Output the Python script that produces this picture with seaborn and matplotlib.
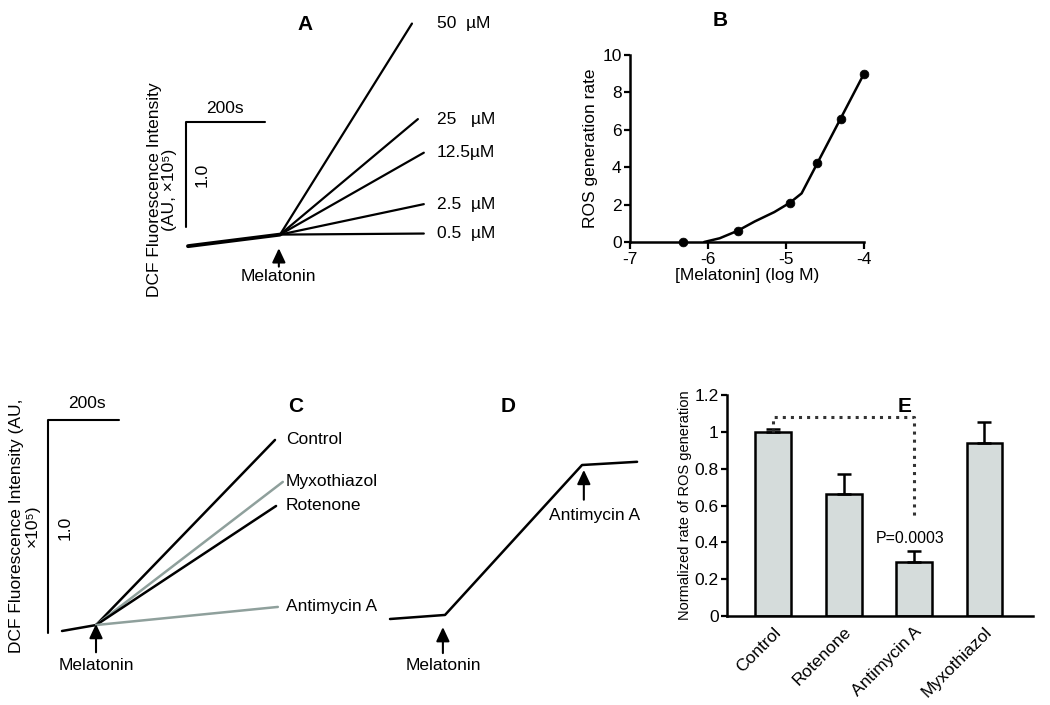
import numpy as np
import pandas as pd
import matplotlib
matplotlib.use("Agg")
import matplotlib.pyplot as plt
import seaborn as sns

sns.set_style("ticks")
plt.rcParams["font.family"] = ["Liberation Sans", "DejaVu Sans"]
plt.rcParams["text.color"] = "black"
plt.rcParams["axes.labelcolor"] = "black"
plt.rcParams["xtick.color"] = "black"
plt.rcParams["ytick.color"] = "black"
plt.rcParams["axes.edgecolor"] = "black"
plt.rcParams["axes.unicode_minus"] = False

W, H = 1050, 705
GREY = "#8fa09c"

# ---- panel A: traces (time in s, DCF intensity in AU x10^5)
a_pre_t = [0, 233]
a_pre_i = [-0.03, 0.08]
a_labels = ["50  µM", "25   µM", "12.5µM", "2.5  µM", "0.5  µM"]
a_end_t = [567, 582, 597, 597, 597]
a_end_i = [2.09, 1.18, 0.86, 0.37, 0.09]

# ---- panel B: dose response
b_logm = [-6.32, -5.62, -4.95, -4.6, -4.3, -4.0]
b_rate = [0.0, 0.6, 2.1, 4.2, 6.6, 9.0]
b_fit_x = [-6.05, -5.85, -5.62, -5.4, -5.15, -4.95, -4.8, -4.6, -4.3, -4.0]
b_fit_y = [0.0, 0.2, 0.6, 1.1, 1.6, 2.1, 2.6, 4.2, 6.6, 9.0]

# ---- panel C: inhibitors
c_pre_t = [0, 96]
c_pre_i = [0.0, 0.028]
c_labels = ["Control", "Myxothiazol", "Rotenone", "Antimycin A"]
c_colors = ["black", GREY, "black", GREY]
c_end_t = [600, 622, 603, 608]
c_end_i = [0.897, 0.70, 0.587, 0.113]

# ---- panel D: antimycin added during ramp
d_t = [0, 155, 541, 696]
d_i = [0.0, 0.019, 0.723, 0.738]

# ---- panel E: normalized rates
e_labels = ["Control", "Rotenone", "Antimycin A", "Myxothiazol"]
e_vals = [1.0, 0.66, 0.295, 0.94]
e_err = [0.015, 0.11, 0.058, 0.115]

fig = plt.figure(figsize=(W / 100, H / 100), dpi=100)


def px_axes(l, r, t, b):
    return fig.add_axes([l / W, 1 - b / H, (r - l) / W, (b - t) / H])


def trace_axes(l, r, t, b, x0, y0, sx, sy):
    ax = px_axes(l, r, t, b)
    ax.set_xlim((l - x0) / sx, (r - x0) / sx)
    ax.set_ylim((y0 - b) / sy, (y0 - t) / sy)
    ax.axis("off")
    return ax


def scale_bar(ax, x, y, dx, dy):
    ax.plot([x, x, x + dx], [y, y + dy, y + dy], color="black", lw=1.5, clip_on=False)


def arrow(ax, x, tip, tail):
    ax.annotate("", xy=(x, tip), xytext=(x, tail),
                arrowprops=dict(arrowstyle="-|>,head_width=0.4,head_length=0.85",
                                color="black", lw=1.5, shrinkA=0, shrinkB=0))


FS = 12.5

# ================= A
axA = trace_axes(140, 500, 0, 300, 188, 243, 0.395, 105)
sns.lineplot(x=a_pre_t, y=a_pre_i, color="black", lw=2.8, ax=axA)
for lab, te, ie in zip(a_labels, a_end_t, a_end_i):
    sns.lineplot(x=[a_pre_t[-1], te], y=[a_pre_i[-1], ie], color="black", lw=1.6, ax=axA)
    axA.text(630, ie, lab, ha="left", va="center", fontsize=FS)
scale_bar(axA, -5.8, 0.155, 200, 1.0)
axA.text(94, 1.28, "200s", ha="center", va="center", fontsize=FS)
axA.text(34.6, 0.65, "1.0", rotation=90, ha="center", va="center", fontsize=FS)
axA.text(-65.8, 0.505, "DCF Fluorescence Intensity\n(AU, ×10⁵)", rotation=90,
         ha="center", va="center", fontsize=FS, linespacing=1.05, multialignment="center")
arrow(axA, 230, -0.05, -0.225)
axA.text(230, -0.32, "Melatonin", ha="center", va="center", fontsize=FS)

# ================= B
axB = px_axes(630, 864, 55, 242)
sns.lineplot(x=b_fit_x, y=b_fit_y, color="black", lw=1.8, ax=axB)
sns.scatterplot(x=b_logm, y=b_rate, color="black", s=40, edgecolor="black", zorder=5,
                clip_on=False, ax=axB)
axB.set_xlim(-7, -4)
axB.set_ylim(0, 10)
axB.set_xticks([-7, -6, -5, -4])
axB.set_yticks([0, 2, 4, 6, 8, 10])
axB.set_xlabel("[Melatonin] (log M)", fontsize=FS, labelpad=1)
axB.set_ylabel("ROS generation rate", fontsize=FS, labelpad=3)
sns.despine(ax=axB)

# ================= C
axC = trace_axes(0, 380, 380, 705, 62, 631, 0.355, 213)
sns.lineplot(x=c_pre_t, y=c_pre_i, color="black", lw=1.8, ax=axC)
for lab, col, te, ie in zip(c_labels, c_colors, c_end_t, c_end_i):
    sns.lineplot(x=[c_pre_t[-1], te], y=[c_pre_i[-1], ie], color=col, lw=1.8, ax=axC)
    axC.text(631, ie, lab, ha="left", va="center", fontsize=FS)
scale_bar(axC, -39.4, -0.01, 200, 1.0)
axC.text(71.3, 1.07, "200s", ha="center", va="center", fontsize=FS)
axC.text(8.5, 0.484, "1.0", rotation=90, ha="center", va="center", fontsize=FS)
axC.text(-107, 0.493, "DCF Fluorescence Intensity (AU,\n×10⁵)", rotation=90,
         ha="center", va="center", fontsize=FS, linespacing=1.05, multialignment="center")
arrow(axC, 95.8, 0.033, -0.1)
axC.text(95.8, -0.164, "Melatonin", ha="center", va="center", fontsize=FS)

# ================= D
axD = trace_axes(380, 660, 380, 705, 390, 619, 0.355, 213)
sns.lineplot(x=d_t, y=d_i, color="black", lw=1.8, ax=axD)
arrow(axD, 149, -0.038, -0.16)
axD.text(149, -0.22, "Melatonin", ha="center", va="center", fontsize=FS)
arrow(axD, 546, 0.70, 0.56)
axD.text(577, 0.488, "Antimycin A", ha="center", va="center", fontsize=FS)

# ================= E
axE = px_axes(727, 1033, 395, 616)
sns.barplot(x=e_labels, y=e_vals, color="#d5dcdb", saturation=1, edgecolor="black",
            linewidth=1.8, width=0.51, ax=axE)
axE.errorbar(range(len(e_vals)), e_vals, yerr=[np.zeros(len(e_err)), e_err], fmt="none",
             ecolor="black", elinewidth=1.8, capsize=4.7, capthick=1.8)
axE.plot([0, 0, 2, 2], [1.0, 1.078, 1.078, 0.52], ls=":", color="#333333", lw=2.2)
axE.text(1.95, 0.42, "P=0.0003", ha="center", va="center", fontsize=11.5)
axE.set_xlim(-0.66, 3.69)
axE.set_ylim(0, 1.2)
axE.set_yticks([0, 0.2, 0.4, 0.6, 0.8, 1.0, 1.2])
axE.set_yticklabels(["0", "0.2", "0.4", "0.6", "0.8", "1", "1.2"])
axE.set_xlabel("")
axE.set_ylabel("Normalized rate of ROS generation", fontsize=10.5, labelpad=2)
axE.tick_params(axis="x", length=0, pad=6)
plt.setp(axE.get_xticklabels(), rotation=45, ha="right", rotation_mode="anchor")
sns.despine(ax=axE)

for ax in (axB, axE):
    for s in ("left", "bottom"):
        ax.spines[s].set_linewidth(1.8)
    ax.tick_params(axis="both", labelsize=FS, width=1.6, direction="out")
    ax.tick_params(axis="y", length=4, pad=2)
axB.tick_params(axis="x", length=5, pad=2)

# panel letters
for letter, px, py in [("A", 305, 25), ("B", 720, 20), ("C", 296, 406),
                       ("D", 508, 406), ("E", 905, 406)]:
    fig.text(px / W, 1 - py / H, letter, ha="center", va="center",
             fontsize=15, fontweight="bold")

fig.savefig("out.png", dpi=100)
